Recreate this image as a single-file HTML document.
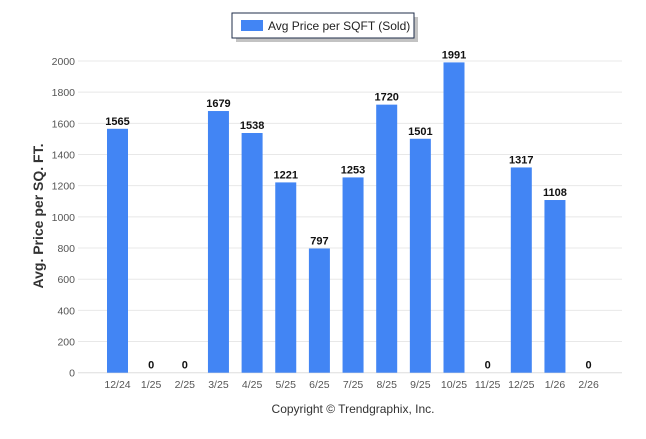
<!DOCTYPE html>
<html><head><meta charset="utf-8"><style>
body{margin:0;background:#fff;width:646px;height:434px;overflow:hidden;font-family:"Liberation Sans",sans-serif}
</style></head><body>
<svg id="chart" width="646" height="434" xmlns="http://www.w3.org/2000/svg">
<g>
<rect x="234" y="15" width="182" height="25" fill="#888" opacity="0.5" transform="translate(2,2)"/>
<rect x="232" y="13" width="182" height="25" fill="#fff" stroke="#1f2d4a" stroke-width="1"/>
<rect x="241" y="20" width="22" height="11" fill="#4285f4"/>
<text x="268" y="30" font-size="12" fill="#222">Avg Price per SQFT (Sold)</text>
</g>
<g id="grid"></g>
<g id="yticks"></g>
<g id="bars"></g>
<g id="xticks"></g>
<text transform="translate(43,216) rotate(-90)" text-anchor="middle" font-size="14" font-weight="bold" fill="#333">Avg. Price per SQ. FT.</text>
<text x="353" y="413" text-anchor="middle" font-size="12" fill="#333">Copyright © Trendgraphix, Inc.</text>
</svg>
<script>
const categories=["12/24","1/25","2/25","3/25","4/25","5/25","6/25","7/25","8/25","9/25","10/25","11/25","12/25","1/26","2/26"];
const values=[1565,0,0,1679,1538,1221,797,1253,1720,1501,1991,0,1317,1108,0];
const yTicks=[0,200,400,600,800,1000,1200,1400,1600,1800,2000];
const NS="http://www.w3.org/2000/svg";
const y0=372.7,yTop=61,yMax=2000;
function yS(v){return y0-(v/yMax)*(y0-yTop);}
function xS(i){return 117.5+i*33.65;}
function mk(t,a,p,txt){const e=document.createElementNS(NS,t);for(const k in a)e.setAttribute(k,a[k]);if(txt!==undefined)e.textContent=txt;p.appendChild(e);return e;}
const grid=document.getElementById('grid'),yt=document.getElementById('yticks'),bars=document.getElementById('bars'),xt=document.getElementById('xticks');
yTicks.forEach(v=>{
 const l=mk('line',{x1:78,x2:622,y1:yS(v),y2:yS(v),stroke:v===0?'#ddd':'#e8e8e8','stroke-width':1},grid);
 
 
 const t=mk('text',{x:75,y:yS(v)+4,'text-anchor':'end','font-size':10.5,fill:'#555'},yt,String(v));
 
 
});
categories.forEach((c,i)=>{
 const v=values[i];
 const r=mk('rect',{x:xS(i)-10.5,y:yS(v),width:21,height:y0-yS(v),fill:'#4285f4'},bars);
 
 
 const lb=mk('text',{x:xS(i),y:yS(v)-4,'text-anchor':'middle','font-size':11,'font-weight':'bold',fill:'#111'},bars,String(v));
 
 
 const t=mk('text',{x:xS(i),y:388,'text-anchor':'middle','font-size':10.5,fill:'#555'},xt,c);
 
 
});
</script>
</body></html>
